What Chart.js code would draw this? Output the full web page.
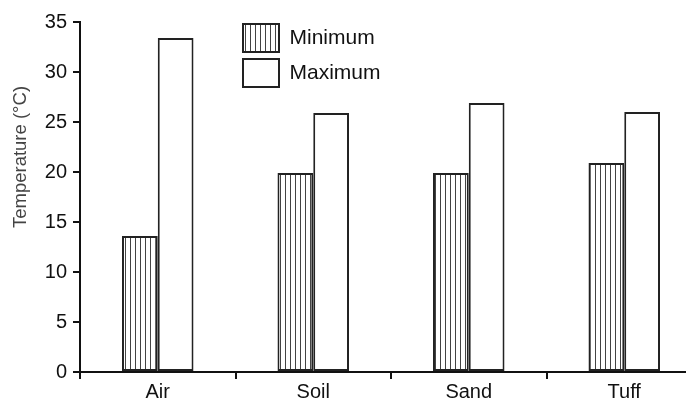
<!DOCTYPE html>
<html>
<head>
<meta charset="utf-8">
<script src="https://cdn.jsdelivr.net/npm/chart.js@4/dist/chart.umd.min.js"></script>
<style>
  html, body { margin: 0; padding: 0; background: #fff; overflow: hidden; }
  #wrap { width: 702px; height: 402px; position: relative; }
</style>
</head>
<body>
<div id="wrap"><canvas id="barchart"></canvas></div>
<script>
const categories = ['Air', 'Soil', 'Sand', 'Tuff'];
const minimumTemp = [13.6, 19.9, 19.9, 20.9];
const maximumTemp = [33.4, 25.9, 26.9, 26.0];
const yTicks = [0, 5, 10, 15, 20, 25, 30, 35];
const yTitle = 'Temperature (°C)';

// vertical hatch for the Minimum bars
function hatch() {
  const c = document.createElement('canvas');
  c.width = 5;
  c.height = 5;
  const g = c.getContext('2d');
  g.fillStyle = '#fff';
  g.fillRect(0, 0, 5, 5);
  g.fillStyle = '#444';
  g.fillRect(0, 0, 1, 5);
  return g.createPattern(c, 'repeat');
}

const font = { family: 'Liberation Sans, Arial, sans-serif', size: 20 };

const placeLegend = {
  id: 'placeLegend',
  beforeDraw(chart) {
    chart.legend.left = 236;
    chart.legend.top = 17;
  }
};

const yTitlePlugin = {
  id: 'yTitlePlugin',
  afterDraw(chart) {
    const c = chart.ctx;
    c.save();
    c.translate(21, 157);
    c.rotate(-Math.PI / 2);
    c.font = '18.5px Liberation Sans, Arial, sans-serif';
    c.fillStyle = '#444';
    c.textAlign = 'center';
    c.textBaseline = 'middle';
    c.fillText(yTitle, 0, 0);
    c.restore();
  }
};

const ctx = document.getElementById('barchart');

new Chart(ctx, {
  type: 'bar',
  data: {
    labels: categories,
    datasets: [{
      label: 'Minimum',
      data: minimumTemp,
      backgroundColor: hatch(),
      borderColor: '#222',
      borderWidth: 2,
      borderSkipped: false
    }, {
      label: 'Maximum',
      data: maximumTemp,
      backgroundColor: '#fff',
      borderColor: '#222',
      borderWidth: 2,
      borderSkipped: false
    }]
  },
  options: {
    responsive: true,
    maintainAspectRatio: false,
    animation: false,
    categoryPercentage: 0.46,
    barPercentage: 1,
    layout: { padding: { top: 22, left: 0, right: 0, bottom: 0 } },
    scales: {
      x: {
        grid: { display: true, drawOnChartArea: false, offset: true, tickLength: 7, color: '#111', lineWidth: 2 },
        border: { display: true, color: '#111', width: 2 },
        ticks: { color: '#111', font: font, padding: 1 },
        afterFit(scale) { scale.height = 30; }
      },
      y: {
        min: 0,
        max: 35,
        afterBuildTicks(scale) { scale.ticks = yTicks.map(v => ({ value: v })); },
        grid: { display: true, drawOnChartArea: false, tickLength: 7, color: '#111', lineWidth: 2 },
        border: { display: true, color: '#111', width: 2 },
        ticks: { color: '#111', font: font, padding: 6 },
        afterFit(scale) { scale.width = 80; }
      }
    },
    plugins: {
      tooltip: { enabled: false },
      legend: {
        position: 'chartArea',
        align: 'start',
        labels: {
          boxWidth: 36,
          boxHeight: 28,
          padding: 7,
          color: '#111',
          font: { family: 'Liberation Sans, Arial, sans-serif', size: 21 }
        }
      }
    }
  },
  plugins: [placeLegend, yTitlePlugin]
});
</script>
</body>
</html>
